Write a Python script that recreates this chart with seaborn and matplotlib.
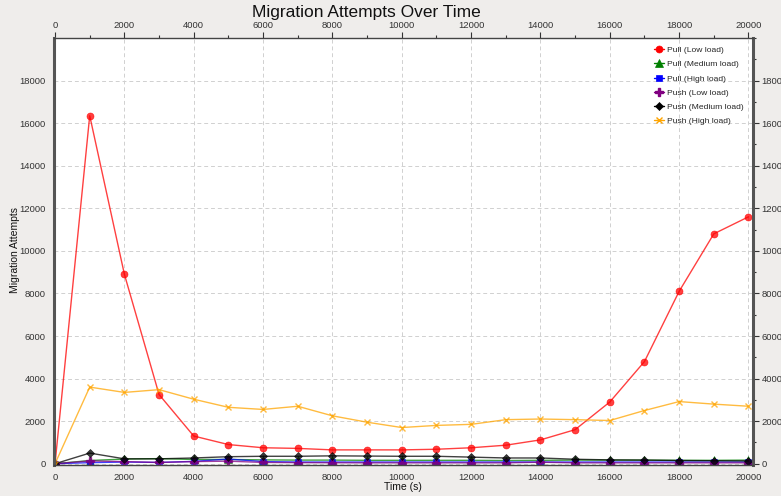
import numpy as np
import pandas as pd
import matplotlib
matplotlib.use("Agg")
import matplotlib.pyplot as plt
import seaborn as sns
from matplotlib.ticker import MultipleLocator

# ---- data ----
time_s = [0, 1000, 2000, 3000, 4000, 5000, 6000, 7000, 8000, 9000, 10000,
          11000, 12000, 13000, 14000, 15000, 16000, 17000, 18000, 19000, 20000]

pull_low = [0, 16350, 8900, 3250, 1300, 900, 750, 720, 650, 650, 650,
            680, 750, 870, 1120, 1600, 2900, 4800, 8100, 10800, 11600]
pull_medium = [0, 150, 220, 240, 200, 200, 180, 170, 170, 160, 160,
               160, 160, 150, 160, 170, 170, 170, 160, 160, 170]
pull_high = [0, 50, 80, 60, 110, 220, 100, 80, 80, 80, 80,
             80, 80, 80, 80, 80, 80, 80, 80, 80, 80]
push_low = [0, 130, 100, 60, 100, 120, 60, 50, 45, 40, 40,
            40, 40, 40, 70, 40, 40, 40, 40, 40, 40]
push_medium = [0, 500, 230, 230, 270, 330, 350, 350, 370, 360, 350,
               350, 310, 270, 270, 210, 180, 170, 150, 140, 130]
push_high = [0, 3600, 3350, 3480, 3030, 2650, 2550, 2700, 2250, 1950, 1700,
             1800, 1850, 2070, 2100, 2070, 2030, 2500, 2920, 2800, 2700]

series_names = ["Pull (Low load)", "Pull (Medium load)", "Pull (High load)",
                "Push (Low load)", "Push (Medium load)", "Push (High load)"]
series_values = [pull_low, pull_medium, pull_high, push_low, push_medium, push_high]
colors = ["#ff0000", "#008000", "#0000ff", "#800080", "#000000", "#ffa500"]
markers = ["o", "^", "s", "P", "D", "x"]
marker_sizes = [5, 6, 4.5, 6, 4, 5]

df = pd.concat(
    [pd.DataFrame({"time": time_s, "attempts": vals, "series": name})
     for name, vals in zip(series_names, series_values)],
    ignore_index=True,
)

# ---- figure ----
sns.set_style("white")
plt.rcParams["font.family"] = ["Liberation Sans", "DejaVu Sans"]

W, H = 781, 496
bg = "#efedeb"
fig = plt.figure(figsize=(W / 100, H / 100), dpi=100, facecolor=bg)
ax = fig.add_axes([54 / W, 1 - 465 / H, (753 - 54) / W, (465 - 38) / H])
ax.set_facecolor("white")

for name, col, mk, ms in zip(series_names, colors, markers, marker_sizes):
    sub = df[df["series"] == name]
    sns.lineplot(data=sub, x="time", y="attempts", ax=ax, color=col,
                 marker=mk, markersize=ms, markeredgecolor=col,
                 markeredgewidth=1.0 if mk in ("x", "P") else 0.5,
                 linewidth=1.0, alpha=0.75, label=name)

ax.set_xlim(-30, 20130)
ax.set_ylim(-60, 20000)
ax.xaxis.set_major_locator(MultipleLocator(2000))
ax.xaxis.set_minor_locator(MultipleLocator(1000))
ax.yaxis.set_minor_locator(MultipleLocator(1000))
ax.set_yticks(np.arange(0, 20000, 2000))

ax.grid(True, which="major", color="#d0d0d0", linestyle=(0, (4, 3)), linewidth=0.7)
ax.tick_params(axis="both", which="both", direction="out", labelsize=6.8,
               colors="#333333", top=True, right=True,
               labeltop=True, labelright=True, pad=2)
ax.tick_params(which="major", length=4, width=0.8)
ax.tick_params(which="minor", length=2, width=0.8)

for side in ["left", "right"]:
    ax.spines[side].set_linewidth(2.2)
    ax.spines[side].set_color("#555555")
for side in ["top", "bottom"]:
    ax.spines[side].set_linewidth(1.0)
    ax.spines[side].set_color("#444444")

ax.set_xlabel("")
ax.set_ylabel("")
fig.text(366 / W, 1 - 12 / H, "Migration Attempts Over Time", fontsize=12.5,
         color="#111111", ha="center", va="center")
fig.text(403 / W, 1 - 487 / H, "Time (s)", fontsize=7.5,
         color="#111111", ha="center", va="center")
fig.text(15 / W, 1 - 250 / H, "Migration Attempts", fontsize=7.5,
         color="#111111", ha="center", va="center", rotation=90)

leg = ax.legend(loc="upper right", frameon=False, fontsize=6.1,
                handlelength=1.2, handletextpad=0.3, labelspacing=0.75,
                borderaxespad=0.3, bbox_to_anchor=(0.995, 0.995))
for line in leg.get_lines():
    line.set_alpha(1.0)

fig.savefig("out.png", dpi=100, facecolor=bg)
